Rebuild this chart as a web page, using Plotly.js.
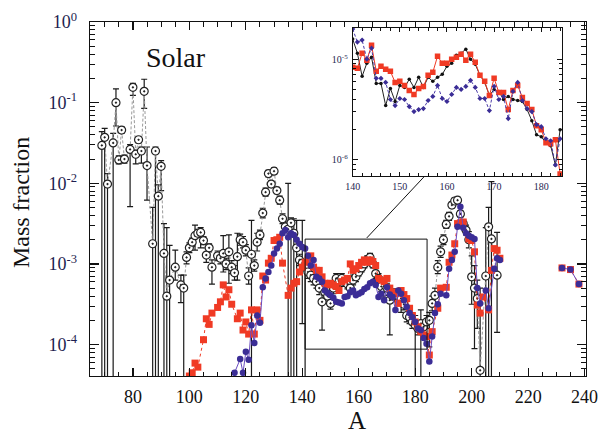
<!DOCTYPE html>
<html><head><meta charset="utf-8">
<script src="https://cdn.plot.ly/plotly-3.0.1.min.js"></script>
<style>html,body{margin:0;padding:0;background:#fff}#chart{width:601px;height:437px}</style>
</head><body><div id="chart"></div>
<script>
// ---- Solar (log10 mass fraction, upper / lower error limits in log10; -6 = off the bottom) ----
const solarA   = [69,70,71,73,74,75,76,77,79,80,81,82,83,84,85,87,88,89,90,91,92,93,95,97,98,99,100,101,102,103,104,105,106,107,108,110,111,112,113,114,115,116,117,118,119,120,121,122,123,124,125,126,127,128,129,130,131,132,133,134,135,136,137,138,139,140,141,142,143,144,145,146,147,148,149,150,151,152,153,154,155,156,157,158,159,160,161,162,163,164,165,166,167,168,169,170,171,172,173,174,175,176,177,178,179,180,181,182,183,184,185,186,187,188,189,190,191,192,193,194,195,196,197,198,199,200,201,202,203,205,206,207,209];
const solarLog = [-1.53,-1.43,-2.01,-1.50,-1.00,-1.71,-1.34,-1.70,-1.58,-0.81,-1.64,-1.46,-1.60,-0.86,-1.78,-2.75,-1.60,-2.16,-1.79,-2.87,-3.40,-3.20,-3.04,-3.26,-3.30,-2.92,-2.80,-2.73,-2.65,-2.62,-2.61,-2.71,-2.89,-2.80,-3.04,-2.90,-2.93,-2.87,-3.00,-2.85,-3.04,-3.11,-2.91,-2.70,-2.73,-2.83,-3.15,-2.88,-3.02,-2.73,-2.64,-2.37,-2.11,-1.88,-2.01,-1.85,-2.09,-2.21,-2.44,-2.54,-2.57,-2.49,-2.62,-2.80,-2.95,-2.99,-3.04,-3.10,-3.14,-3.18,-3.22,-3.30,-3.47,-3.35,-3.40,-3.49,-3.30,-3.18,-3.22,-3.18,-3.22,-3.25,-3.30,-3.20,-3.16,-3.10,-3.05,-3.00,-2.95,-2.92,-3.00,-3.12,-3.18,-3.28,-3.35,-3.30,-3.45,-3.40,-3.38,-3.40,-3.43,-3.50,-3.64,-3.66,-3.72,-3.76,-3.80,-3.74,-3.78,-3.72,-3.70,-3.49,-3.39,-3.04,-2.85,-2.70,-2.51,-2.41,-2.27,-2.22,-2.21,-2.38,-2.50,-2.58,-2.70,-3.16,-3.30,-3.43,-4.32,-3.15,-2.54,-2.69,-3.14];
const solarHi  = [-1.36,-1.32,-1.88,-1.38,-0.83,-1.66,-1.30,-1.65,-1.52,-0.76,-1.59,-1.42,-1.55,-0.71,-1.55,-2.30,-1.55,-2.02,-1.72,-2.50,-2.55,-2.77,-2.83,-3.14,-3.14,-2.85,-2.74,-2.68,-2.52,-2.57,-2.55,-2.66,-2.80,-2.75,-2.95,-2.84,-2.87,-2.65,-2.93,-2.64,-2.96,-3.02,-2.62,-2.63,-2.66,-2.76,-3.05,-2.46,-2.95,-2.62,-2.58,-2.31,-2.06,-1.84,-1.97,-1.81,-2.05,-2.16,-2.38,-2.48,-2.00,-2.43,-2.44,-2.46,-2.88,-2.46,-2.95,-3.02,-3.06,-3.10,-3.14,-3.22,-3.35,-3.28,-3.33,-3.42,-3.23,-3.12,-3.16,-3.12,-3.16,-3.19,-3.23,-3.14,-3.10,-3.05,-3.00,-2.95,-2.90,-2.87,-2.95,-3.06,-3.12,-3.22,-3.28,-3.24,-3.28,-3.33,-3.31,-3.33,-3.36,-3.43,-3.56,-3.58,-3.64,-3.64,-3.72,-3.57,-3.70,-3.64,-3.60,-3.40,-3.30,-2.96,-2.78,-2.64,-2.46,-2.36,-2.23,-2.18,-2.17,-2.34,-2.45,-2.52,-2.60,-2.90,-3.02,-3.20,-3.30,-2.55,-2.30,-1.98,-2.61];
const solarLo  = [-6,-6,-6,-6,-1.29,-1.76,-1.38,-1.75,-2.29,-0.91,-1.76,-1.50,-1.75,-1.07,-2.21,-6,-6,-6,-2.09,-6,-6,-6,-3.20,-3.48,-6,-3.00,-2.86,-2.78,-2.83,-2.67,-2.80,-2.76,-2.98,-2.85,-3.25,-2.96,-3.00,-3.10,-3.07,-3.24,-3.12,-3.20,-3.20,-2.77,-2.80,-2.90,-3.25,-6,-3.09,-2.84,-2.70,-2.43,-2.16,-1.92,-2.05,-1.89,-2.13,-2.26,-2.50,-2.60,-6,-6,-6,-6,-3.02,-3.74,-6,-3.18,-3.22,-3.26,-3.30,-3.38,-3.82,-3.42,-3.47,-3.56,-3.37,-3.24,-3.28,-3.24,-3.28,-3.31,-3.37,-3.26,-3.22,-3.15,-3.10,-3.05,-3.00,-2.97,-3.05,-3.18,-3.24,-3.34,-3.42,-3.36,-3.88,-3.47,-3.45,-3.47,-3.60,-3.57,-3.72,-3.74,-3.80,-6,-3.88,-6,-3.86,-3.80,-4.03,-3.58,-3.48,-3.12,-2.92,-2.76,-2.56,-2.46,-2.31,-2.26,-2.25,-2.42,-2.55,-2.64,-2.80,-3.50,-4.05,-3.80,-6,-6,-6,-6,-3.85];

// ---- Red model (log10 mass fraction) ----
const redA   = [100,101,102,103,105,106,107,108,110,111,112,113,114,115,117,118,119,120,121,122,123,124,125,126,127,128,129,130,131,132,133,135,136,137,138,139,140,141,142,143,144,145,146,147,148,149,150,151,152,153,154,155,156,157,158,159,160,161,162,163,164,165,166,167,168,169,170,171,172,173,174,175,176,177,178,179,180,181,182,183,184,185,186,188,189,191,192,193,194,195,196,197,199,200,201,202,203,204,206,207,208,209,210,232,235,238];
const redLog = [-4.39,-4.35,-4.23,-4.28,-3.94,-3.68,-3.75,-3.61,-3.54,-3.47,-3.26,-3.41,-3.32,-3.50,-3.68,-3.61,-3.82,-3.72,-3.87,-3.57,-3.87,-3.57,-3.70,-3.15,-3.20,-2.99,-2.93,-2.71,-2.70,-2.67,-2.99,-3.39,-3.30,-3.24,-3.22,-3.10,-3.04,-2.98,-2.95,-2.90,-3.04,-3.08,-3.08,-3.16,-3.24,-3.26,-3.24,-3.26,-3.28,-3.33,-3.22,-3.20,-3.18,-3.00,-3.08,-3.06,-3.02,-2.98,-2.95,-2.98,-2.95,-2.97,-3.02,-3.18,-3.20,-3.22,-3.18,-3.30,-3.35,-3.37,-3.49,-3.33,-3.38,-3.43,-3.55,-3.64,-3.72,-3.78,-3.84,-3.88,-3.90,-4.13,-3.84,-3.55,-3.30,-3.29,-2.98,-2.89,-2.75,-2.50,-2.49,-2.48,-2.69,-2.71,-2.85,-3.51,-3.61,-3.41,-3.57,-3.08,-2.81,-2.83,-2.93,-3.05,-3.07,-3.25];

// ---- Blue model (log10 mass fraction) ----
const blueA   = [116,118,119,120,121,122,123,124,125,126,127,128,129,130,131,132,133,134,135,136,137,138,139,140,141,142,143,144,145,146,147,148,149,150,151,152,153,154,155,156,157,158,159,160,161,162,163,164,165,166,167,168,169,170,171,172,173,174,175,176,177,178,179,180,181,182,183,184,185,186,187,188,189,191,192,193,194,195,196,197,198,199,200,201,202,203,205,206,208,209,210,232,235,238];
const blueLog = [-4.35,-4.18,-4.35,-4.09,-4.19,-3.76,-3.98,-3.64,-3.73,-3.29,-3.18,-3.10,-3.02,-2.87,-2.81,-2.75,-2.62,-2.58,-2.67,-2.62,-2.64,-2.70,-2.75,-2.79,-2.81,-2.90,-3.02,-2.95,-3.16,-3.18,-3.22,-3.33,-3.36,-3.39,-3.42,-3.47,-3.48,-3.49,-3.41,-3.40,-3.35,-3.33,-3.39,-3.37,-3.35,-3.31,-3.29,-3.24,-3.22,-3.26,-3.41,-3.37,-3.45,-3.29,-3.38,-3.41,-3.57,-3.33,-3.37,-3.45,-3.53,-3.61,-3.66,-3.72,-3.80,-3.82,-3.92,-3.99,-4.21,-3.90,-3.61,-3.50,-3.37,-3.39,-3.06,-2.95,-2.85,-2.54,-2.29,-2.55,-2.62,-2.65,-2.67,-2.69,-3.30,-3.49,-3.33,-3.55,-3.06,-2.93,-2.95,-3.05,-3.07,-3.25];

// ---- Inset (log10 abundance), A = 140..184 ----
const insetA = [140,141,142,143,144,145,146,147,148,149,150,151,152,153,154,155,156,157,158,159,160,161,162,163,164,165,166,167,168,169,170,171,172,173,174,175,176,177,178,179,180,181,182,183,184];
const insetSolarLog = [-4.80,-4.94,-5.17,-5.04,-4.98,-5.24,-5.24,-5.46,-5.29,-5.42,-5.26,-5.28,-5.20,-5.28,-5.18,-5.28,-5.18,-5.22,-5.18,-5.15,-5.07,-5.04,-4.96,-4.94,-4.90,-5.00,-5.05,-5.16,-5.23,-5.36,-5.30,-5.32,-5.40,-5.37,-5.40,-5.41,-5.42,-5.50,-5.61,-5.75,-5.77,-5.83,-5.86,-6.05,-5.70];
const insetRedLog = [-5.08,-5.09,-4.94,-5.01,-4.86,-5.12,-5.07,-5.10,-5.12,-5.23,-5.22,-5.26,-5.31,-5.35,-5.29,-5.27,-5.16,-5.13,-4.97,-5.04,-5.04,-5.00,-4.98,-4.95,-5.01,-4.95,-5.03,-5.16,-5.22,-5.36,-5.19,-5.33,-5.33,-5.50,-5.31,-5.26,-5.38,-5.44,-5.50,-5.66,-5.70,-5.83,-5.84,-5.80,-6.14];
const insetBlueLog = [-4.70,-4.83,-4.81,-5.00,-4.89,-5.19,-5.19,-5.23,-5.40,-5.46,-5.39,-5.40,-5.47,-5.52,-5.50,-5.49,-5.41,-5.37,-5.26,-5.39,-5.42,-5.35,-5.28,-5.30,-5.27,-5.21,-5.28,-5.39,-5.39,-5.51,-5.27,-5.40,-5.37,-5.59,-5.32,-5.23,-5.41,-5.49,-5.52,-5.65,-5.67,-5.79,-5.81,-6.05,-5.79];

// ---- Tick labels ----
const yTickVals = [1e-4,1e-3,1e-2,1e-1,1];
const yTickText = ['10<sup>-4</sup>','10<sup>-3</sup>','10<sup>-2</sup>','10<sup>-1</sup>','10<sup>0</sup>'];
const xTickVals = [80,100,120,140,160,180,200,220,240];
const insetYTickVals = [1e-6,1e-5];
const insetYTickText = ['10<sup>-6</sup>','10<sup>-5</sup>'];
const insetXTickVals = [140,150,160,170,180];

const pw = v => Math.pow(10, v);
const FONT = 'Liberation Serif, "Times New Roman", serif';

// break the connecting line where consecutive A values are far apart (isolated points at A>230)
function withGaps(xs, ys, maxGap){
  const X=[], Y=[];
  xs.forEach((x,i)=>{ if(i>0 && x-xs[i-1]>maxGap){X.push(null);Y.push(null);} X.push(x); Y.push(ys[i]); });
  return {X, Y};
}
const redG = withGaps(redA, redLog.map(pw), 10);
const blueG = withGaps(blueA, blueLog.map(pw), 10);

const solarY = solarLog.map(pw);
const errPlus = solarHi.map((h,i)=>pw(h)-solarY[i]);
const errMinus = solarLo.map((l,i)=>solarY[i]-pw(l));

function minorLog(d0,d1){const v=[];for(let d=d0;d<=d1;d++)for(let k=2;k<=9;k++)v.push(k*Math.pow(10,d));return v;}

const traces = [
  {x:solarA, y:solarY, type:'scatter', mode:'lines+markers', name:'Solar',
   line:{color:'#9a9a9a', width:1, dash:'3px,2px'},
   marker:{symbol:'circle-dot', size:8, color:'#ffffff', line:{color:'#222', width:1.2}},
   error_y:{type:'data', symmetric:false, array:errPlus, arrayminus:errMinus, color:'#1a1a1a', thickness:1.2, width:3},
   xaxis:'x', yaxis:'y'},
  {x:redG.X, y:redG.Y, type:'scatter', mode:'lines+markers', name:'red', connectgaps:false,
   line:{color:'#f03a24', width:1, dash:'dot'},
   marker:{symbol:'square', size:7, color:'#f03a24'}, xaxis:'x', yaxis:'y'},
  {x:blueG.X, y:blueG.Y, type:'scatter', mode:'lines+markers', name:'blue', connectgaps:false,
   line:{color:'#6a4cc0', width:1},
   marker:{symbol:'circle', size:6.5, color:'#3b2d96'}, xaxis:'x', yaxis:'y'},
  {x:insetA, y:insetSolarLog.map(pw), type:'scatter', mode:'lines+markers',
   line:{color:'#222', width:1}, marker:{symbol:'circle', size:3.5, color:'#111'}, xaxis:'x2', yaxis:'y2'},
  {x:insetA, y:insetRedLog.map(pw), type:'scatter', mode:'lines+markers',
   line:{color:'#f03a24', width:1}, marker:{symbol:'square', size:5.5, color:'#f03a24'}, xaxis:'x2', yaxis:'y2'},
  {x:insetA, y:insetBlueLog.map(pw), type:'scatter', mode:'lines+markers',
   line:{color:'#4a3aa8', width:1, dash:'3px,2px'}, marker:{symbol:'diamond', size:4, color:'#3b2d96'}, xaxis:'x2', yaxis:'y2'}
];

const axCommon = {showline:true, linecolor:'#111', linewidth:1.3, mirror:'ticks', ticks:'inside', tickcolor:'#111', showgrid:false, zeroline:false};

const layout = {
  width:601, height:437, paper_bgcolor:'#fff', plot_bgcolor:'#fff',
  margin:{l:90, r:15, t:22, b:61}, showlegend:false,
  font:{family:FONT, color:'#111'},
  xaxis:Object.assign({}, axCommon, {range:[64.8,240.5], tickmode:'array', tickvals:xTickVals, ticklen:8, tickwidth:1.2,
    tickfont:{family:FONT, size:18, color:'#111'}, ticklabelstandoff:4,
    minor:{dtick:5, tick0:0, ticks:'inside', ticklen:4.5, tickcolor:'#111', tickwidth:1}}),
  yaxis:Object.assign({}, axCommon, {type:'log', range:[-4.39,0], tickmode:'array', tickvals:yTickVals, ticktext:yTickText, ticklen:9, tickwidth:1.2,
    tickfont:{family:FONT, size:18, color:'#1e1e50'}, ticklabelstandoff:8,
    minor:{tickmode:'array', tickvals:minorLog(-5,-1), ticks:'inside', ticklen:5, tickcolor:'#111', tickwidth:1}}),
  xaxis2:Object.assign({}, axCommon, {anchor:'y2', domain:[0.5296,0.9516], range:[140,184.4], tickmode:'array', tickvals:insetXTickVals, ticklen:4, tickwidth:1,
    linewidth:1, tickfont:{family:FONT, size:10, color:'#1e1e50'}, ticklabelstandoff:1,
    minor:{dtick:2, tick0:0, ticks:'inside', ticklen:2.5, tickcolor:'#111'}}),
  yaxis2:Object.assign({}, axCommon, {anchor:'x2', domain:[0.565,0.983], type:'log', range:[-6.16,-4.69], tickmode:'array', tickvals:insetYTickVals, ticktext:insetYTickText, ticklen:5, tickwidth:1,
    linewidth:1, tickfont:{family:FONT, size:10, color:'#1e1e50'}, ticklabelstandoff:2,
    minor:{tickmode:'array', tickvals:minorLog(-7,-5), ticks:'inside', ticklen:3, tickcolor:'#111'}}),
  shapes:[
    {type:'rect', xref:'x', yref:'y', x0:141, x1:184.2, y0:8.77e-5, y1:2.03e-3, line:{color:'#111', width:1}},
    {type:'line', xref:'paper', yref:'paper', x0:0.558, y0:0.390, x1:0.673, y1:0.562, line:{color:'#111', width:1}}
  ],
  annotations:[
    {text:'Solar', xref:'paper', yref:'paper', x:0.173, y:0.901, xanchor:'center', yanchor:'middle', showarrow:false, font:{family:FONT, size:28, color:'#111'}},
    {text:'Mass fraction', xref:'paper', yref:'paper', x:-0.14, y:0.49, xanchor:'center', yanchor:'middle', textangle:-90, showarrow:false, font:{family:FONT, size:24, color:'#111'}},
    {text:'A', xref:'paper', yref:'paper', x:0.538, y:-0.127, xanchor:'center', yanchor:'middle', showarrow:false, font:{family:FONT, size:25, color:'#111'}}
  ]
};

Plotly.newPlot('chart', traces, layout, {staticPlot:true, displayModeBar:false});
</script></body></html>
